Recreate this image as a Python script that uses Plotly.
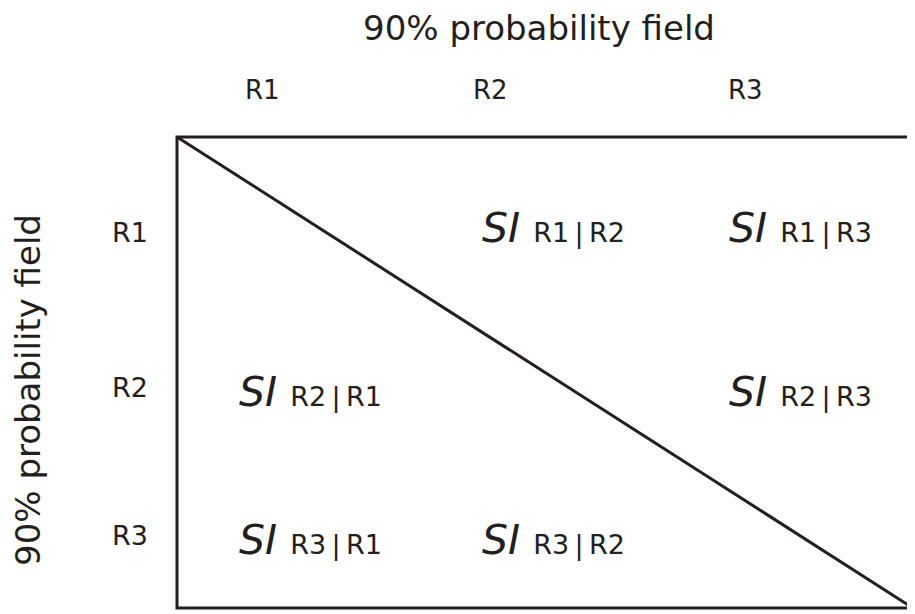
import plotly.graph_objects as go

# %% labels
title_text = "90% probability field"
col_labels = ["R1", "R2", "R3"]
row_labels = ["R1", "R2", "R3"]
cell_prefix = "SI"

# layout positions (pixel space of the 915x614 page)
header_x = [262, 490, 745]
header_y = 90
row_label_x = 130
row_y = [232, 387, 535]
cell_x = [310, 553, 800]
cell_y = [228, 392, 540]
box = dict(x0=177, y0=137, x1=913, y1=608)

ink = "#231f20"
font_family = "DejaVu Sans"
page_offset = 8  # body margin of the html page

# %%
fig = go.Figure()

fig.add_shape(type="rect", **box, line=dict(color=ink, width=3))
fig.add_shape(type="line", x0=box["x0"], y0=box["y0"], x1=box["x1"], y1=box["y1"],
              line=dict(color=ink, width=3))

# titles
fig.add_annotation(x=539, y=28, text=title_text, showarrow=False,
                   font=dict(size=34, color=ink))
fig.add_annotation(x=28, y=390, text=title_text, showarrow=False, textangle=-90,
                   font=dict(size=34, color=ink))

# column and row headers
for lab, x in zip(col_labels, header_x):
    fig.add_annotation(x=x, y=header_y, text=lab, showarrow=False,
                       font=dict(size=26, color=ink))
for lab, y in zip(row_labels, row_y):
    fig.add_annotation(x=row_label_x, y=y, text=lab, showarrow=False,
                       font=dict(size=27, color=ink))

# off-diagonal cells
for i, r in enumerate(row_labels):
    for j, c in enumerate(col_labels):
        if i == j:
            continue
        txt = (f"<i>{cell_prefix}</i> "
               f"<span style='font-size:27px'>{r}\u2009|\u2009{c}</span>")
        fig.add_annotation(x=cell_x[j], y=cell_y[i], text=txt, showarrow=False,
                           font=dict(size=41, color=ink))

fig.update_xaxes(range=[page_offset, 915 + page_offset], visible=False, fixedrange=True)
fig.update_yaxes(range=[614 + page_offset, page_offset], visible=False, fixedrange=True)
fig.update_layout(width=915, height=614, margin=dict(l=0, r=0, t=0, b=0),
                  plot_bgcolor="white", paper_bgcolor="white",
                  font=dict(family=font_family, color=ink), showlegend=False)

fig.write_html("out.html")
